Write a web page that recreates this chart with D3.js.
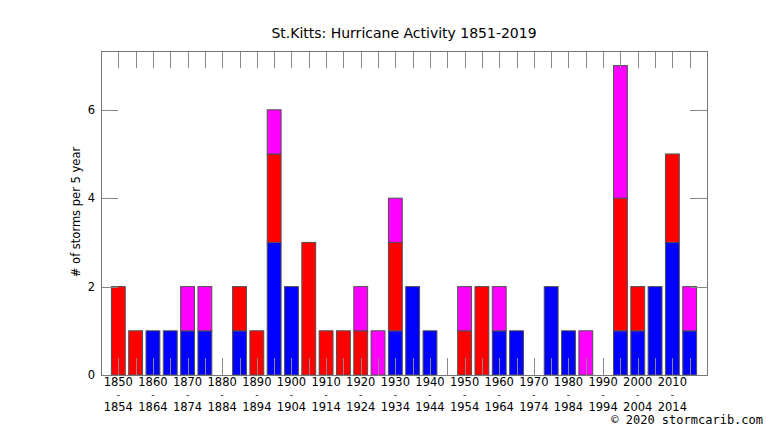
<!DOCTYPE html>
<html><head><meta charset="utf-8">
<script src="https://cdn.jsdelivr.net/npm/d3@7"></script>
<style>body{margin:0;background:#fff}svg{display:block}text{font-family:"DejaVu Sans",sans-serif;fill:#000}</style>
</head><body>
<script>
const startYears = [1850,1855,1860,1865,1870,1875,1880,1885,1890,1895,1900,1905,1910,1915,1920,1925,1930,1935,1940,1945,1950,1955,1960,1965,1970,1975,1980,1985,1990,1995,2000,2005,2010,2015];
const blueVals    = [0,0,1,1,1,1,0,1,0,3,2,0,0,0,0,0,1,2,1,0,0,0,1,1,0,2,1,0,0,1,1,2,3,1];
const redVals     = [2,1,0,0,0,0,0,1,1,2,0,3,1,1,1,0,2,0,0,0,1,2,0,0,0,0,0,0,0,3,1,0,2,0];
const magentaVals = [0,0,0,0,1,1,0,0,0,1,0,0,0,0,1,1,1,0,0,0,1,0,1,0,0,0,0,1,0,3,0,0,0,1];
const yTicks = [0,2,4,6];
const titleText = "St.Kitts: Hurricane Activity 1851-2019";
const yLabel = "# of storms per 5 year";
const credit = "\u00a9 2020 stormcarib.com";

const W=766,H=431;
const L=101,R=707,T=51,B=375;
const svg=d3.select("body").append("svg").attr("width",W).attr("height",H);
const x=d3.scaleLinear().domain([-1,startYears.length]).range([L,R]);
const y=d3.scaleLinear().domain([0,7.33]).range([B,T]);
const bw=(x(1)-x(0))*0.8;

const stacks=startYears.map((yr,i)=>{
  const segs=[];let base=0;
  [[blueVals[i],"#0000ff"],[redVals[i],"#ff0000"],[magentaVals[i],"#ff00ff"]].forEach(([v,c])=>{
    if(v>0){segs.push({i,y0:base,y1:base+v,c});base+=v;}
  });
  return segs;
}).flat();

svg.append("g").selectAll("rect").data(stacks).join("rect")
  .attr("x",d=>x(d.i)-bw/2).attr("width",bw)
  .attr("y",d=>y(d.y1)).attr("height",d=>y(d.y0)-y(d.y1))
  .attr("fill",d=>d.c).attr("stroke","#505050").attr("stroke-width",1);

const tl=17;
const tg=svg.append("g").attr("stroke","#888").attr("stroke-width",1);
startYears.forEach((yr,i)=>{
  const xx=Math.round(x(i))+0.5;
  tg.append("line").attr("x1",xx).attr("x2",xx).attr("y1",B).attr("y2",B-tl);
  tg.append("line").attr("x1",xx).attr("x2",xx).attr("y1",T).attr("y2",T+tl);
});
yTicks.forEach(v=>{
  const yy=Math.round(y(v))+0.5;
  tg.append("line").attr("x1",L).attr("x2",L+tl).attr("y1",yy).attr("y2",yy);
  tg.append("line").attr("x1",R).attr("x2",R-tl).attr("y1",yy).attr("y2",yy);
});
svg.append("rect").attr("x",L+0.5).attr("y",T+0.5).attr("width",R-L).attr("height",B-T)
  .attr("fill","none").attr("stroke","#777").attr("stroke-width",1);

// y tick labels
svg.append("g").selectAll("text").data(yTicks).join("text")
  .attr("x",L-6).attr("y",d=>y(d)).attr("dy","0.36em").attr("text-anchor","end")
  .attr("font-size","11.5px").text(d=>d);

// x labels every 10 years: start year, dash, end year
const xl=svg.append("g").attr("text-anchor","middle");
startYears.forEach((yr,i)=>{
  if(i%2) return;
  const xx=x(i);
  xl.append("text").attr("x",xx).attr("y",386).attr("font-size","11.5px").text(yr);
  xl.append("text").attr("x",xx).attr("y",397.5).attr("font-size","9px").text("-");
  xl.append("text").attr("x",xx).attr("y",411).attr("font-size","11.5px").text(yr+4);
});

svg.append("text").attr("x",404).attr("y",38).attr("text-anchor","middle").attr("font-size","14px").text(titleText);
svg.append("text").attr("transform","translate(80,212) rotate(-90)").attr("text-anchor","middle").attr("font-size","11.5px").text(yLabel);
svg.append("text").attr("x",763).attr("y",424).attr("text-anchor","end")
  .style("font-family","'DejaVu Sans Mono',monospace").attr("font-size","12px").text(credit);
</script>
</body></html>
